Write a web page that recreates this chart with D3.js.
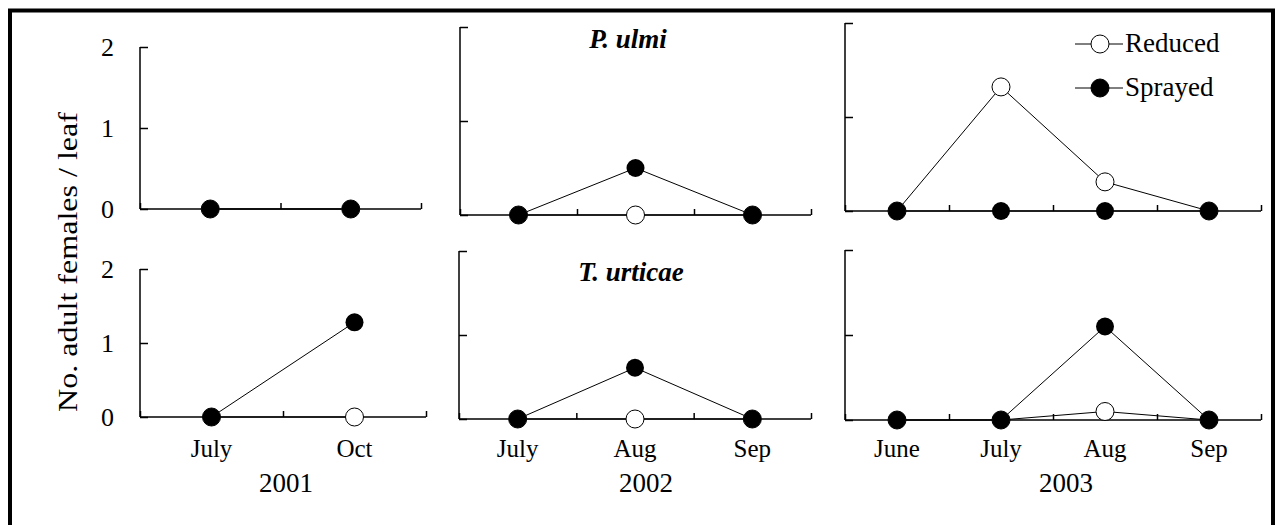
<!DOCTYPE html>
<html>
<head>
<meta charset="utf-8">
<script src="https://cdn.jsdelivr.net/npm/d3@7"></script>
<style>
  html, body { margin: 0; padding: 0; background: #fff; }
  svg { display: block; }
  text { font-family: "Liberation Serif", "Times New Roman", serif; fill: #000; }
</style>
</head>
<body>
<svg id="chart" width="1275" height="525"></svg>
<script>
// ---------------- DATA ----------------
const months2001 = ["July", "Oct"];
const months2002 = ["July", "Aug", "Sep"];
const months2003 = ["June", "July", "Aug", "Sep"];
const years = ["2001", "2002", "2003"];
const species = ["P. ulmi", "T. urticae"];
const seriesNames = ["Reduced", "Sprayed"];
const yTicks = [0, 1, 2];
const yTitle = "No. adult females / leaf";

// P. ulmi (top row)
const pUlmi2001Reduced = [0, 0];
const pUlmi2001Sprayed = [0, 0];
const pUlmi2002Reduced = [0, 0, 0];
const pUlmi2002Sprayed = [0, 0.5, 0];
const pUlmi2003Reduced = [0, 1.32, 0.31, 0];
const pUlmi2003Sprayed = [0, 0, 0, 0];

// T. urticae (bottom row)
const tUrt2001Reduced = [0, 0];
const tUrt2001Sprayed = [0, 1.28];
const tUrt2002Reduced = [0, 0, 0];
const tUrt2002Sprayed = [0, 0.61, 0];
const tUrt2003Reduced = [0, 0, 0.1, 0];
const tUrt2003Sprayed = [0, 0, 1.1, 0];

// ---------------- LAYOUT ----------------
const svg = d3.select("#chart");
const SERIF = "'Liberation Serif', 'Times New Roman', serif";

const panels = [
  {months: months2001, reduced: pUlmi2001Reduced, sprayed: pUlmi2001Sprayed, x0: 140, x1: 421, yZero: 209, yTwo: 47, yLabels: true},
  {months: months2002, reduced: pUlmi2002Reduced, sprayed: pUlmi2002Sprayed, x0: 460, x1: 811, yZero: 215, yTwo: 27, title: species[0], titleX: 628, titleY: 48},
  {months: months2003, reduced: pUlmi2003Reduced, sprayed: pUlmi2003Sprayed, x0: 845, x1: 1261, yZero: 211, yTwo: 23, legend: true},
  {months: months2001, reduced: tUrt2001Reduced, sprayed: tUrt2001Sprayed, x0: 140, x1: 426, yZero: 417, yTwo: 269, yLabels: true, year: years[0], yearX: 286, xLabels: true},
  {months: months2002, reduced: tUrt2002Reduced, sprayed: tUrt2002Sprayed, x0: 459, x1: 811, yZero: 419, yTwo: 251, title: species[1], titleX: 631, titleY: 281, year: years[1], yearX: 646, xLabels: true},
  {months: months2003, reduced: tUrt2003Reduced, sprayed: tUrt2003Sprayed, x0: 845, x1: 1261, yZero: 420, yTwo: 250, year: years[2], yearX: 1066, xLabels: true}
];

// outer frame
svg.append("rect")
  .attr("x", 10).attr("y", 10.5)
  .attr("width", 1263).attr("height", 600)
  .attr("fill", "none").attr("stroke", "#000").attr("stroke-width", 4);

const R = 9;

panels.forEach(p => {
  const n = p.months.length;
  const x = d3.scaleLinear().domain([0, n]).range([p.x0, p.x1]);
  const y = d3.scaleLinear().domain([0, 2]).range([p.yZero, p.yTwo]);
  const g = svg.append("g");

  // y axis
  const yAxis = d3.axisLeft(y).tickValues(yTicks).tickSize(-8).tickPadding(26)
    .tickFormat(p.yLabels ? d3.format("d") : () => "");
  const ya = g.append("g").attr("transform", `translate(${p.x0},0)`).call(yAxis)
    .attr("font-family", SERIF);
  ya.select(".domain").attr("d", `M0,${y(2)}V${y(0)}`).attr("stroke-width", 1.5);
  ya.selectAll(".tick line").attr("stroke-width", 1.5);
  ya.selectAll(".tick text").style("font-family", SERIF).style("font-size", "26px").attr("dy", "0.34em");

  // x axis: ticks at category boundaries
  const xAxis = d3.axisBottom(x).tickValues(d3.range(0, n + 1)).tickSize(-6).tickFormat(() => "");
  const xa = g.append("g").attr("transform", `translate(0,${p.yZero})`).call(xAxis);
  xa.select(".domain").attr("d", `M${p.x0},0H${p.x1}`).attr("stroke-width", 1.5);
  xa.selectAll(".tick line").attr("stroke-width", 1.5);

  const cx = i => x(i + 0.5);
  const line = d3.line().x((d, i) => cx(i)).y(d => y(d));

  g.append("path").datum(p.reduced).attr("d", line)
    .attr("fill", "none").attr("stroke", "#000").attr("stroke-width", 1);
  g.append("path").datum(p.sprayed).attr("d", line)
    .attr("fill", "none").attr("stroke", "#000").attr("stroke-width", 1);

  g.selectAll("circle.red").data(p.reduced).join("circle").attr("class", "red")
    .attr("cx", (d, i) => cx(i)).attr("cy", d => y(d)).attr("r", R)
    .attr("fill", "#fff").attr("stroke", "#000").attr("stroke-width", 1);
  g.selectAll("circle.spr").data(p.sprayed).join("circle").attr("class", "spr")
    .attr("cx", (d, i) => cx(i)).attr("cy", d => y(d)).attr("r", R)
    .attr("fill", "#000");

  if (p.xLabels) {
    g.selectAll("text.month").data(p.months).join("text").attr("class", "month")
      .attr("x", (d, i) => cx(i)).attr("y", 457)
      .attr("text-anchor", "middle").style("font-size", "25px").text(d => d);
    g.append("text").attr("x", p.yearX).attr("y", 492)
      .attr("text-anchor", "middle").style("font-size", "27px").text(p.year);
  }
  if (p.title) {
    g.append("text").attr("x", p.titleX).attr("y", p.titleY)
      .attr("text-anchor", "middle").style("font-size", "27px")
      .style("font-weight", "bold").style("font-style", "italic").text(p.title);
  }
  if (p.legend) {
    const lg = svg.append("g");
    const items = [{name: seriesNames[0], fill: "#fff", y: 44}, {name: seriesNames[1], fill: "#000", y: 88}];
    items.forEach(it => {
      lg.append("line").attr("x1", 1075).attr("x2", 1123).attr("y1", it.y).attr("y2", it.y)
        .attr("stroke", "#000").attr("stroke-width", 1);
      lg.append("circle").attr("cx", 1100).attr("cy", it.y).attr("r", R)
        .attr("fill", it.fill).attr("stroke", "#000").attr("stroke-width", 1);
      lg.append("text").attr("x", 1125).attr("y", it.y + 8)
        .style("font-size", "27px").text(it.name);
    });
  }
});

// y axis title
svg.append("text")
  .attr("transform", "translate(77,262) rotate(-90)")
  .attr("text-anchor", "middle")
  .attr("textLength", 300).attr("lengthAdjust", "spacingAndGlyphs")
  .style("font-size", "27px")
  .text(yTitle);
</script>
</body>
</html>
